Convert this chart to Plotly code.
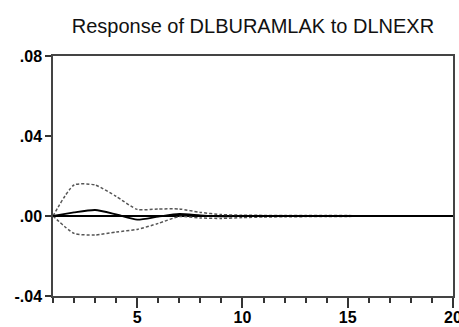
import plotly.graph_objects as go

periods = list(range(1, 21))
response = [0.0, 0.0018, 0.0030, 0.0008, -0.0018, -0.0003, 0.0010, 0.0003, -0.0002, 0.0,
            0.0, 0.0, 0.0, 0.0, 0.0, 0.0, 0.0, 0.0, 0.0, 0.0]
upper = [0.0, 0.0155, 0.0155, 0.0098, 0.0033, 0.0035, 0.0035, 0.0018, 0.0007, 0.0004,
         0.0003, 0.0003, 0.0002, 0.0002, 0.0002, 0.0001, 0.0001, 0.0001, 0.0001, 0.0001]
lower = [0.0, -0.0087, -0.0095, -0.0080, -0.0067, -0.0037, -0.0003, -0.0010, -0.0012, -0.0008,
         -0.0005, -0.0004, -0.0003, -0.0002, -0.0002, -0.0001, -0.0001, -0.0001, -0.0001, -0.0001]
y_ticks = [-0.04, 0.0, 0.04, 0.08]
y_labels = ["-.04", ".00", ".04", ".08"]
x_ticks = [5, 10, 15, 20]
title = "Response of DLBURAMLAK to DLNEXR"

fig = go.Figure()
fig.add_trace(go.Scatter(x=periods, y=[0] * len(periods), mode="lines",
                         line=dict(color="black", width=2), hoverinfo="skip"))
fig.add_trace(go.Scatter(x=periods, y=upper, mode="lines",
                         line=dict(color="#555555", width=1.5, dash="3px,2px", shape="spline", smoothing=0.6)))
fig.add_trace(go.Scatter(x=periods, y=lower, mode="lines",
                         line=dict(color="#555555", width=1.5, dash="3px,2px", shape="spline", smoothing=0.6)))
fig.add_trace(go.Scatter(x=periods, y=response, mode="lines",
                         line=dict(color="black", width=1.8, shape="spline", smoothing=0.6)))

fig.update_layout(
    width=459, height=327,
    margin=dict(l=53, r=6, t=56, b=31),
    paper_bgcolor="white", plot_bgcolor="white",
    showlegend=False,
    font=dict(family="Liberation Sans, Arial, sans-serif", color="black"),
    title=dict(text=title, x=0.551, xanchor="center", y=0.92, yanchor="middle",
               font=dict(size=20, color="#111111")),
    xaxis=dict(range=[1, 20], tickvals=x_ticks, ticktext=[str(v) for v in x_ticks],
               ticks="outside", ticklen=10, tickwidth=1.5, tickcolor="#333333",
               minor=dict(dtick=1, tick0=1, ticks="outside", ticklen=5, tickwidth=1.5, tickcolor="#333333"),
               showgrid=False, zeroline=False, showline=True, linecolor="#444444", linewidth=1.5,
               mirror=True, tickfont=dict(size=16, weight="bold"), ticklabelstandoff=-4,
               ticklabeloverflow="allow", automargin=False),
    yaxis=dict(range=[-0.04, 0.08], tickvals=y_ticks, ticktext=y_labels,
               ticks="outside", ticklen=6, tickwidth=1.5, tickcolor="#333333",
               showgrid=False, zeroline=False, showline=True, linecolor="#444444", linewidth=1.5,
               mirror=True, tickfont=dict(size=16, weight="bold"), automargin=False),
)

fig.write_html("out.html")
